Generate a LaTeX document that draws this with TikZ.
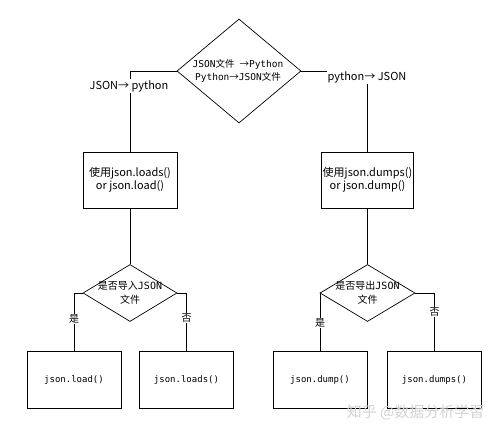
\documentclass[tikz,border=0pt]{standalone}
\usepackage{fontspec}
\setmainfont{Noto Sans CJK SC}
\newfontfamily\monof{DejaVu Sans Mono}
\usetikzlibrary{shapes.geometric}
\begin{document}
\begin{tikzpicture}[x=1pt,y=-1pt,line width=0.7pt,
  box/.style={draw,minimum width=94pt,minimum height=56pt,inner sep=0pt,align=center},
  dia/.style={draw,diamond,inner sep=0pt},
  bigtxt/.style={align=center,font=\fontsize{11}{13}\selectfont},
  smtxt/.style={align=center,font=\fontsize{10}{14}\selectfont},
  monotxt/.style={font=\monof\fontsize{9}{11}\selectfont},
  lbl/.style={fill=white,inner sep=1pt,font=\fontsize{11}{13}\selectfont},
  yn/.style={fill=white,inner sep=1pt,font=\fontsize{10}{12}\selectfont}]
\useasboundingbox (0,0) rectangle (498,434);
% top decision
\node[dia,minimum width=124pt,minimum height=104pt] (d1) at (239,71) {};
\node[align=center,font=\fontsize{9.5}{13}\selectfont] (d1t) at (238,71)
  {{\monof JSON}文件\hspace{5pt}→{\monof Python}\\{\monof Python}→{\monof JSON}文件};
% second level boxes
\node[box] (b1) at (130,180) {};
\node[bigtxt] (b1t) at (130,180) {使用json.loads()\\or json.load()};
\node[box,minimum width=92pt] (b2) at (367.5,180) {};
\node[bigtxt] (b2t) at (367.5,180) {使用json.dumps()\\or json.dump()};
% second decisions
\node[dia,minimum width=94pt,minimum height=57pt] (d2) at (130,293) {};
\node[smtxt] (d2t) at (130,293) {是否导入{\monof JSON}\\文件};
\node[dia,minimum width=95pt,minimum height=57pt] (d3) at (367.5,293) {};
\node[smtxt] (d3t) at (367.5,293) {是否导出{\monof JSON}\\文件};
% bottom boxes
\node[box,minimum height=57pt] (e1) at (74,380) {};
\node[monotxt] (e1t) at (74,380) {json.load()};
\node[box,minimum height=57pt] (e2) at (186.5,380) {};
\node[monotxt] (e2t) at (186.5,380) {json.loads()};
\node[box,minimum height=57pt] (e3) at (320,380) {};
\node[monotxt] (e3t) at (320,380) {json.dump()};
\node[box,minimum height=57pt] (e4) at (434.5,380) {};
\node[monotxt] (e4t) at (434.5,380) {json.dumps()};
% connectors
\draw (d1.west) -| (b1.north);
\draw (d1.east) -| (b2.north);
\draw (b1.south) -- (d2.north);
\draw (b2.south) -- (d3.north);
\draw (d2.west) -| (e1.north);
\draw (d2.east) -| (e2.north);
\draw (d3.west) -| (e3.north);
\draw (d3.east) -| (e4.north);
% labels
\node[lbl] (l1) at (129,86) {JSON→ python};
\node[lbl] (l2) at (367,77) {python→ JSON};
\node[yn] (y1) at (74,319) {是};
\node[yn] (n1) at (186.5,318) {否};
\node[yn] (y2) at (320,323) {是};
\node[yn] (n2) at (434.5,312) {否};
% watermark
\node[text=gray!35,font=\fontsize{15}{17}\selectfont,anchor=east] (wm) at (488,412) {知乎 @数据分析学習};
\end{tikzpicture}
\end{document}
